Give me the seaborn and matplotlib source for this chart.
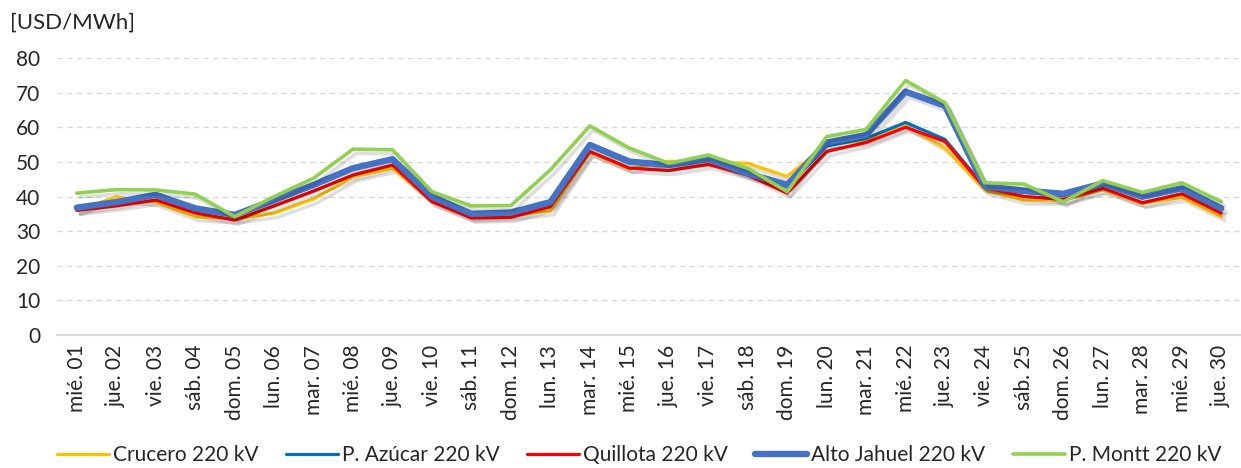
import numpy as np
import pandas as pd
import seaborn as sns
import matplotlib.pyplot as plt
import matplotlib.patheffects as pe

days = ['mié. 01', 'jue. 02', 'vie. 03', 'sáb. 04', 'dom. 05', 'lun. 06', 'mar. 07', 'mié. 08',
        'jue. 09', 'vie. 10', 'sáb. 11', 'dom. 12', 'lun. 13', 'mar. 14', 'mié. 15', 'jue. 16',
        'vie. 17', 'sáb. 18', 'dom. 19', 'lun. 20', 'mar. 21', 'mié. 22', 'jue. 23', 'vie. 24',
        'sáb. 25', 'dom. 26', 'lun. 27', 'mar. 28', 'mié. 29', 'jue. 30']

crucero = [36.0, 39.9, 38.4, 34.2, 33.5, 35.2, 39.3, 45.7, 48.2, 38.6, 34.0, 34.5, 35.9, 52.8, 48.0,
           50.2, 50.0, 49.6, 45.8, 55.0, 56.2, 60.5, 54.0, 41.9, 39.0, 39.0, 42.0, 38.0, 39.8, 34.2]
p_azucar = [37.0, 38.6, 40.2, 36.2, 34.5, 38.8, 43.0, 48.0, 50.5, 39.8, 34.8, 35.2, 38.2, 54.8, 49.8,
            48.9, 50.6, 46.5, 42.8, 54.6, 56.8, 61.4, 56.5, 42.8, 41.2, 40.3, 43.4, 39.6, 42.0, 36.2]
quillota = [36.0, 37.3, 39.0, 35.3, 33.2, 37.3, 41.6, 46.2, 49.1, 38.5, 33.8, 34.0, 37.1, 53.0, 48.2,
            47.5, 49.3, 46.2, 41.0, 53.0, 55.6, 60.0, 55.9, 42.6, 40.0, 39.2, 42.4, 38.2, 40.8, 35.2]
alto_jahuel = [36.8, 38.4, 40.5, 36.6, 34.7, 39.0, 43.4, 48.2, 50.8, 40.0, 35.0, 35.4, 38.4, 54.9, 50.1,
               49.1, 50.8, 46.7, 43.4, 55.6, 57.8, 70.3, 66.2, 43.0, 41.7, 40.8, 43.8, 40.0, 42.4, 36.6]
p_montt = [41.0, 42.0, 41.9, 40.7, 34.2, 40.0, 45.3, 53.7, 53.5, 41.4, 37.3, 37.4, 47.7, 60.4, 54.0,
           49.6, 52.0, 48.2, 41.4, 57.3, 59.4, 73.5, 67.1, 44.0, 43.6, 38.5, 44.6, 41.2, 44.0, 38.5]

series = [
    ('Crucero 220 kV', crucero, '#FFC000', 2.3),
    ('P. Azúcar 220 kV', p_azucar, '#0070C0', 2.3),
    ('Quillota 220 kV', quillota, '#FF0000', 2.3),
    ('Alto Jahuel 220 kV', alto_jahuel, '#4472C4', 4.6),
    ('P. Montt 220 kV', p_montt, '#92D050', 2.6),
]

sns.set_style('white')
plt.rcParams['font.family'] = ['Lato', 'DejaVu Sans']

fig = plt.figure(figsize=(12.41, 4.68), dpi=100)
ax = fig.add_axes([0.046, 0.284, 0.954, 0.592])

shadow = [pe.SimpleLineShadow(offset=(2.5, -3), shadow_color='k', alpha=0.13), pe.Normal()]
for name, vals, color, lw in series:
    df = pd.DataFrame({'day': days, 'value': vals})
    sns.lineplot(data=df, x='day', y='value', ax=ax, color=color, lw=lw, label=name, sort=False,
                 path_effects=shadow)

ax.set_ylim(0, 80)
ax.set_xlim(-0.5, len(days) - 0.5)
ax.set_yticks(np.arange(0, 81, 10))
ax.yaxis.grid(True, ls=(0, (4, 3)), color='#D9D9D9', lw=1)
ax.xaxis.grid(False)
for s in ['top', 'right', 'left']:
    ax.spines[s].set_visible(False)
ax.spines['bottom'].set_color('#D9D9D9')
ax.spines['bottom'].set_linewidth(1.5)
ax.set_xlabel('')
ax.set_ylabel('')
ax.tick_params(axis='y', length=0, labelsize=15, pad=12)
ax.tick_params(axis='x', length=0, labelsize=15, pad=7, rotation=90)

fig.text(0.008, 0.952, '[USD/MWh]', fontsize=16, va='center', ha='left')

leg = ax.legend(loc='center', bbox_to_anchor=(0.515, 0.027), bbox_transform=fig.transFigure,
                ncol=5, frameon=False, fontsize=15, handlelength=2.5, handletextpad=0.2,
                columnspacing=1.3, borderaxespad=0)
for line in leg.get_lines():
    line.set_path_effects([])

fig.savefig('out.png', dpi=100)
